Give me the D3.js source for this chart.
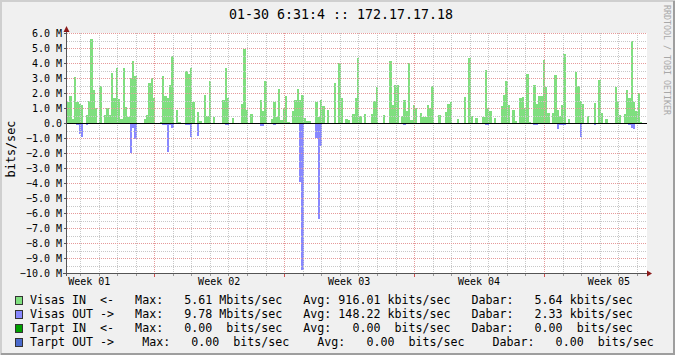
<!DOCTYPE html>
<html>
<head>
<meta charset="utf-8">
<script src="https://cdn.jsdelivr.net/npm/d3@7"></script>
<style>
    body { margin: 0; background: #f0f0f0; }
    svg text { font-family: "DejaVu Sans Mono", monospace; fill: #000; }
</style>
</head>
<body>
<div id="vis-container"></div>
<script>

////////////////////////////////////
/////////////// Data ///////////////
////////////////////////////////////

// one sample every 3 hours (1/8 day), Mbits/sec
const step = 1 / 8

const visasIn = [
    1.4, 1.8, 0.3, 3.1, 1.4, 1.3, 1.2, 0, 0.55, 1.5,
    5.6, 2.2, 1.0, 0, 2.5, 0, 0.55, 1.0, 0.55, 3.35,
    1.65, 3.7, 1.6, 0.3, 3.7, 1.07, 0.38, 3.0, 4.15, 3.15,
    0, 0, 0, 0.27, 0.55, 2.67, 3.0, 1.67, 0, 0,
    0.1, 3.15, 1.78, 1.65, 2.55, 4.45, 0, 0.9, 0.1, 0,
    0, 3.5, 3.3, 3.7, 1.38, 0, 0.75, 0.15, 0, 1.9,
    0.5, 2.8, 0, 0.42, 0, 0, 0, 1.55, 3.7, 1.7,
    0, 0.35, 0, 0, 0, 1.3, 4.95, 0.85, 0, 0.62,
    0, 0, 0, 1.55, 0.82, 2.78, 0, 0, 0.3, 1.42,
    0.4, 2.3, 0.18, 1.0, 1.78, 0.1, 0, 0.82, 1.55, 2.3,
    1.55, 1.9, 0.33, 0.15, 0.15, 0, 0, 1.42, 0.4, 1.55,
    1.15, 0, 0.9, 0, 0, 2.7, 0, 4.0, 1.67, 0,
    0.3, 0.22, 0, 0.62, 1.67, 4.33, 0.45, 0, 0.62, 0,
    0, 0.62, 1.5, 2.42, 0, 0, 0.55, 0, 0, 4.15,
    1.2, 2.55, 2.55, 0, 0.5, 1.55, 0.82, 4.0, 0.22, 1.2,
    1.0, 0, 0.67, 0.4, 0.42, 1.2, 1.0, 2.5, 0, 0,
    0.55, 0, 0, 0.73, 1.3, 1.42, 0, 0, 0.3, 0,
    0, 1.75, 0, 4.35, 0.5, 0, 0.35, 0, 0, 0.42,
    3.55, 1.0, 0.82, 0, 0.35, 0, 0, 1.15, 1.9, 2.82,
    1.2, 0, 0.9, 0.15, 0, 1.7, 1.75, 1.0, 3.3, 0.1,
    0, 2.55, 1.27, 1.78, 1.78, 4.2, 2.38, 0.67, 0, 0.67,
    3.2, 0.85, 0.5, 1.2, 4.62, 0, 0.3, 0, 0, 3.38,
    2.45, 1.5, 1.3, 0, 0.5, 0, 0, 1.35, 0, 2.9,
    0.67, 0, 0.3, 0, 0, 0, 2.42, 1.4, 0.55, 0,
    0.62, 2.2, 1.67, 5.5, 1.42, 0.82, 2.0, 0.1, 0, 0
]

const visasOut = [
    0.05, 0.05, 0, 0, 0.1, 0.7, 0.9, 0, 0.15, 0,
    0.05, 0.05, 0, 0, 0.05, 0, 0, 0, 0, 0.05,
    0.05, 0, 0, 0, 0, 0, 0, 2.0, 0.3, 1.05,
    0.05, 0, 0, 0.05, 0.05, 0.05, 0.05, 0.05, 0, 0,
    0, 0.1, 0.1, 1.9, 0.15, 0.3, 0, 0.05, 0, 0,
    0, 0.1, 0.1, 0.9, 0, 0, 0.85, 0, 0, 0,
    0, 0.05, 0, 0, 0, 0, 0, 0, 0.15, 0.15,
    0, 0, 0, 0, 0, 0, 0.05, 0, 0, 0,
    0, 0, 0, 0.2, 0.2, 0.05, 0, 0, 0, 0.1,
    0, 0, 0, 0.05, 0, 0, 0, 0, 0, 0.03,
    3.9, 9.78, 0, 0, 0, 0, 0, 1.0, 6.4, 1.5,
    0, 0, 0, 0, 0, 0, 0, 0.05, 0, 0,
    0, 0, 0, 0.05, 0.05, 0.05, 0, 0, 0, 0,
    0, 0.05, 0, 0, 0, 0, 0, 0, 0, 0,
    0, 0.05, 0.05, 0, 0.05, 0.15, 0, 0.05, 0, 0,
    0, 0, 0, 0, 0, 0, 0, 0.05, 0, 0,
    0, 0, 0, 0, 0, 0, 0, 0, 0, 0,
    0, 0, 0, 0.08, 0, 0, 0, 0, 0, 0,
    0.1, 0.1, 0, 0, 0, 0, 0, 0.05, 0.05, 0.05,
    0.05, 0, 0, 0, 0, 0, 0, 0.08, 0.08, 0,
    0, 0.12, 0.12, 0, 0, 0.05, 0.05, 0, 0, 0,
    0.05, 0.4, 0.1, 0.1, 0.1, 0, 0, 0, 0, 0.05,
    0.05, 0.9, 0, 0, 0, 0, 0, 0.1, 0, 0.05,
    0, 0, 0, 0, 0, 0, 0.05, 0.05, 0, 0,
    0, 0.08, 0.15, 0.35, 0.4, 0.05, 0, 0, 0, 0
]

// time axis (days from left edge)
const firstDayLine = 0.7
const firstWeekLine = 4.7
const weekLabels = ["Week 01", "Week 02", "Week 03", "Week 04", "Week 05"]
const weekLabelDays = [1.2, 8.2, 15.2, 22.2, 29.2]

const yTickValues = d3.range(-10, 7)

const title = "01-30 6:31:4 :: 172.17.17.18"
const yTitle = "bits/sec"
const watermark = "RRDTOOL / TOBI OETIKER"

const legendColors = ["#7fdf7f", "#8888ff", "#00a000", "#4a6acc"]
const legendRows = [
    "Visas IN  <-   Max:   5.61 Mbits/sec   Avg: 916.01 kbits/sec   Dabar:   5.64 kbits/sec",
    "Visas OUT ->   Max:   9.78 Mbits/sec   Avg: 148.22 kbits/sec   Dabar:   2.33 kbits/sec",
    "Tarpt IN  <-   Max:   0.00  bits/sec   Avg:   0.00  bits/sec   Dabar:   0.00  bits/sec",
    "Tarpt OUT ->    Max:   0.00  bits/sec    Avg:   0.00  bits/sec    Dabar:   0.00  bits/sec"
]

////////////////////////////////////
///////////// SVG Setup ////////////
////////////////////////////////////

const svgWidth = 675
const svgHeight = 355

const plot = { left: 67, right: 647, top: 33, bottom: 273 }

const svg = d3.select('#vis-container')
    .append('svg')
    .attr('width', svgWidth)
    .attr('height', svgHeight)
    .style('display', 'block')

// canvas + 3d frame
svg.append('rect').attr('width', svgWidth).attr('height', svgHeight).attr('fill', '#f0f0f0')
svg.append('path').attr('d', `M1,${svgHeight} V1 H${svgWidth}`)
    .attr('fill', 'none').attr('stroke', '#cfcfcf').attr('stroke-width', 2)
svg.append('path').attr('d', `M1,${svgHeight - 1} H${svgWidth - 1} V1`)
    .attr('fill', 'none').attr('stroke', '#9e9e9e').attr('stroke-width', 2)

svg.append('rect')
    .attr('x', plot.left).attr('y', plot.top)
    .attr('width', plot.right - plot.left).attr('height', plot.bottom - plot.top)
    .attr('fill', '#fff')

////////////////////////////////////
/////////////// Scales /////////////
////////////////////////////////////

const nDays = visasIn.length * step

const xScale = d3.scaleLinear()
    .domain([0, nDays])
    .range([plot.left, plot.right])

const yScale = d3.scaleLinear()
    .domain([-10, 6])
    .range([plot.bottom, plot.top])

////////////////////////////////////
///////////// Add Areas ////////////
////////////////////////////////////

function toPoints(values, sign) {
    let pts = values.map((v, i) => ({ t: i * step, v: sign * v }))
    pts.push({ t: values.length * step, v: sign * values[values.length - 1] })
    return pts
}

const area = d3.area()
    .curve(d3.curveStepAfter)
    .x(d => xScale(d.t))
    .y0(yScale(0))
    .y1(d => yScale(d.v))

svg.append('path')
    .datum(toPoints(visasIn, 1))
    .attr('d', area)
    .attr('fill', legendColors[0])
    .attr('shape-rendering', 'crispEdges')

svg.append('path')
    .datum(toPoints(visasOut, -1))
    .attr('d', area)
    .attr('fill', legendColors[1])
    .attr('shape-rendering', 'crispEdges')

////////////////////////////////////
////////////// Grid ////////////////
////////////////////////////////////

const px = v => Math.round(v) + 0.5

const grid = svg.append('g').attr('shape-rendering', 'crispEdges')

// minor horizontal every 0.5 M
grid.selectAll('.hminor')
    .data(d3.range(-9.5, 6, 1))
    .join('line')
    .attr('x1', plot.left).attr('x2', plot.right)
    .attr('y1', d => px(yScale(d))).attr('y2', d => px(yScale(d)))
    .attr('stroke', '#c8c8c8').attr('stroke-dasharray', '1,1')

// minor vertical every day
const dayLines = d3.range(firstDayLine, nDays, 1)
    .filter(d => Math.abs(((d - firstWeekLine) % 7 + 7) % 7) > 0.01)

grid.selectAll('.vminor')
    .data(dayLines)
    .join('line')
    .attr('x1', d => px(xScale(d))).attr('x2', d => px(xScale(d)))
    .attr('y1', plot.top).attr('y2', plot.bottom)
    .attr('stroke', '#c8c8c8').attr('stroke-dasharray', '1,1')

// major horizontal every 1 M
grid.selectAll('.hmajor')
    .data(yTickValues.filter(d => d !== 0 && d !== -10))
    .join('line')
    .attr('x1', plot.left).attr('x2', plot.right)
    .attr('y1', d => px(yScale(d))).attr('y2', d => px(yScale(d)))
    .attr('stroke', '#e69a9a').attr('stroke-dasharray', '1,1')

// major vertical every week
const weekLines = d3.range(firstWeekLine, nDays, 7)

grid.selectAll('.vmajor')
    .data(weekLines)
    .join('line')
    .attr('x1', d => px(xScale(d))).attr('x2', d => px(xScale(d)))
    .attr('y1', plot.top).attr('y2', plot.bottom)
    .attr('stroke', '#e69a9a').attr('stroke-dasharray', '1,1')

// zero rule
svg.append('line')
    .attr('x1', plot.left).attr('x2', plot.right)
    .attr('y1', px(yScale(0))).attr('y2', px(yScale(0)))
    .attr('stroke', '#000').attr('shape-rendering', 'crispEdges')

////////////////////////////////////
////////////// Axis ////////////////
////////////////////////////////////

const axis = svg.append('g').attr('shape-rendering', 'crispEdges')

axis.append('line')
    .attr('x1', plot.left - 0.5).attr('x2', plot.left - 0.5)
    .attr('y1', plot.bottom + 3).attr('y2', plot.top - 4)
    .attr('stroke', '#555')

axis.append('line')
    .attr('x1', plot.left - 4).attr('x2', plot.right + 1)
    .attr('y1', plot.bottom + 0.5).attr('y2', plot.bottom + 0.5)
    .attr('stroke', '#555')

axis.selectAll('.ytick')
    .data(yTickValues)
    .join('line')
    .attr('x1', plot.left - 3).attr('x2', plot.left)
    .attr('y1', d => px(yScale(d))).attr('y2', d => px(yScale(d)))
    .attr('stroke', '#555')

axis.selectAll('.xtick-minor')
    .data(dayLines)
    .join('line')
    .attr('x1', d => px(xScale(d))).attr('x2', d => px(xScale(d)))
    .attr('y1', plot.bottom + 1).attr('y2', plot.bottom + 3)
    .attr('stroke', '#999')

axis.selectAll('.xtick-major')
    .data(weekLines)
    .join('line')
    .attr('x1', d => px(xScale(d))).attr('x2', d => px(xScale(d)))
    .attr('y1', plot.bottom + 1).attr('y2', plot.bottom + 4)
    .attr('stroke', '#d05050')

// arrows
svg.append('path')
    .attr('d', `M${plot.left - 3.5},${plot.top - 1} L${plot.left + 2.5},${plot.top - 1} L${plot.left - 0.5},${plot.top - 7} Z`)
    .attr('fill', '#8b1a1a')
svg.append('path')
    .attr('d', `M${plot.right},${plot.bottom - 2.5} L${plot.right},${plot.bottom + 3.5} L${plot.right + 5},${plot.bottom + 0.5} Z`)
    .attr('fill', '#8b1a1a')

// tick labels
svg.selectAll('.ylabel')
    .data(yTickValues)
    .join('text')
    .attr('x', plot.left - 5)
    .attr('y', d => yScale(d))
    .attr('dy', '0.36em')
    .attr('text-anchor', 'end')
    .style('font-size', '10px')
    .text(d => d === 0 ? '0.0' : d3.format('.1f')(d) + ' M')

svg.selectAll('.xlabel')
    .data(weekLabels)
    .join('text')
    .attr('x', (d, i) => xScale(weekLabelDays[i]))
    .attr('y', plot.bottom + 12)
    .attr('text-anchor', 'middle')
    .style('font-size', '10px')
    .text(d => d)

////////////////////////////////////
////////////// Texts ///////////////
////////////////////////////////////

svg.append('text')
    .attr('x', 341).attr('y', 18.5)
    .attr('text-anchor', 'middle')
    .style('font-size', '13.3px')
    .text(title)

svg.append('text')
    .attr('transform', `translate(14.5,149) rotate(-90)`)
    .attr('text-anchor', 'middle')
    .style('font-size', '11.8px')
    .text(yTitle)

svg.append('text')
    .attr('transform', `translate(664,60) rotate(90)`)
    .attr('text-anchor', 'middle')
    .style('font-size', '8.3px')
    .style('fill', '#a8a8a8')
    .text(watermark)

////////////////////////////////////
///////////// Legend ///////////////
////////////////////////////////////

const legend = svg.selectAll('.legend')
    .data(legendRows)
    .join('g')
    .attr('transform', (d, i) => `translate(0,${303.5 + i * 14})`)

legend.append('rect')
    .attr('x', 15.5).attr('y', -7.5)
    .attr('width', 7).attr('height', 8)
    .attr('fill', (d, i) => legendColors[i])
    .attr('stroke', '#333')
    .attr('shape-rendering', 'crispEdges')

legend.append('text')
    .attr('x', 30)
    .attr('y', 0)
    .style('font-size', '11.65px')
    .style('white-space', 'pre')
    .text(d => d)

</script>
</body>
</html>
